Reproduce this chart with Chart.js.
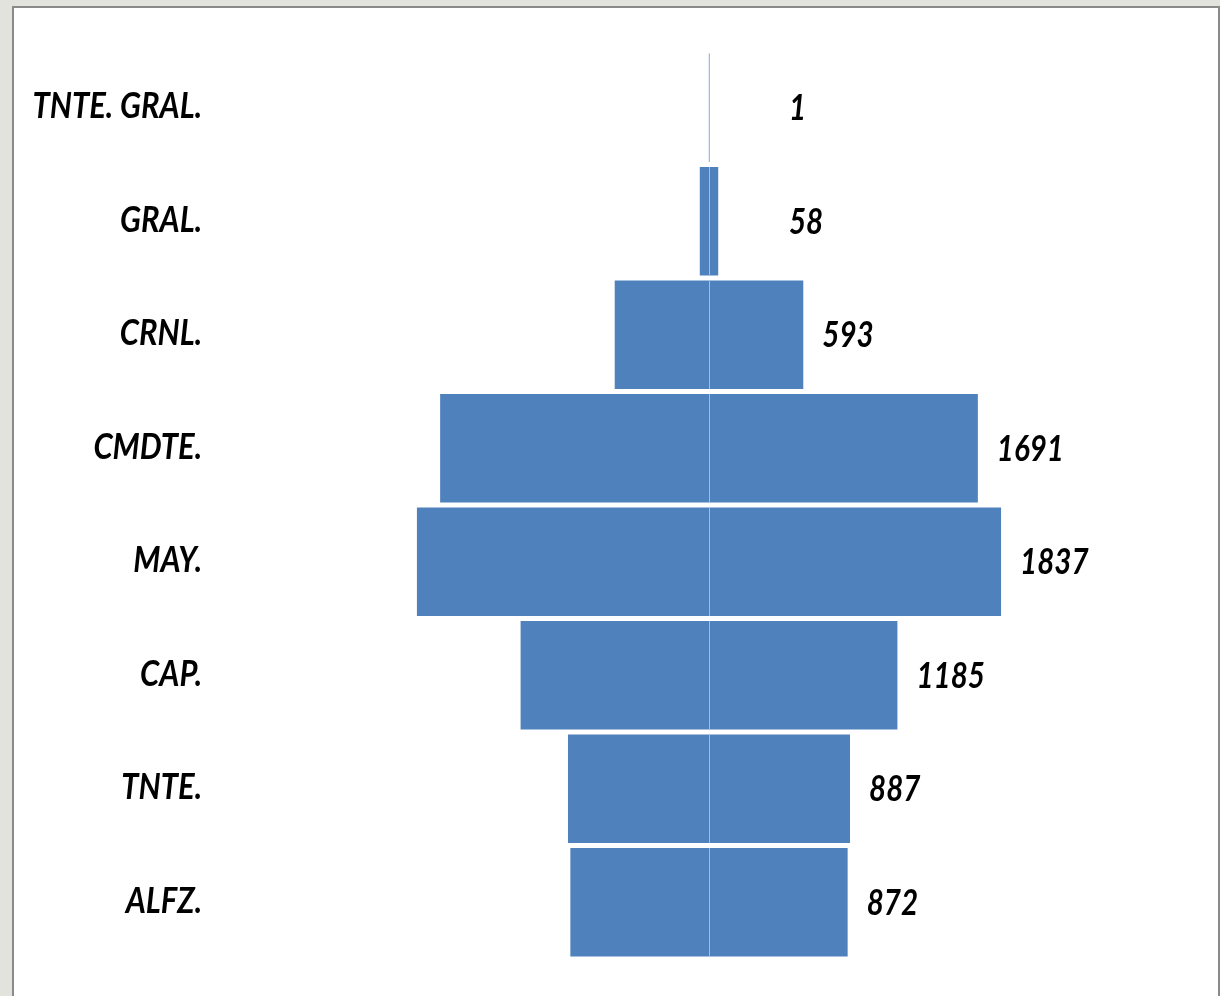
<!DOCTYPE html>
<html lang="es">
<head>
<meta charset="utf-8">
<title>Grados</title>
<script src="https://cdn.jsdelivr.net/npm/chart.js@4/dist/chart.umd.min.js"></script>
<style>
    body { margin: 0; background: #e3e3dd; width: 1220px; height: 996px; overflow: hidden; }
    #marco {
        position: absolute; left: 12px; top: 6px; width: 1204px; height: 1000px;
        background: #ffffff; border: 2px solid #8a8a8a; border-bottom: none;
    }
    #contenedor { position: absolute; left: 0; top: 0; width: 1220px; height: 996px; }
</style>
</head>
<body>
<div id="marco"></div>
<div id="contenedor"><canvas id="piramide" width="1220" height="996"></canvas></div>
<script>
// datos
const grados = ["TNTE. GRAL.", "GRAL.", "CRNL.", "CMDTE.", "MAY.", "CAP.", "TNTE.", "ALFZ."];
const efectivos = [1, 58, 593, 1691, 1837, 1185, 887, 872];
const mitadIzquierda = efectivos.map(v => -v);

const fuente = "Lato, 'DejaVu Sans Condensed', sans-serif";

// texto comprimido en horizontal (imita una letra tipo Calibri)
function textoEstrecho(ctx, texto, x, y, alinear, factor) {
    ctx.save();
    ctx.translate(x, y);
    ctx.scale(factor, 1);
    ctx.textAlign = alinear;
    ctx.fillText(texto, 0, 0);
    ctx.restore();
}

// linea central, grados y etiquetas de valor
const etiquetas = {
    id: "etiquetas",
    afterDatasetsDraw(chart) {
        const ctx = chart.ctx;
        const x0 = chart.scales.x.getPixelForValue(0);
        const ejeY = chart.scales.y;
        const barras = chart.getDatasetMeta(1).data;
        ctx.save();
        ctx.fillStyle = "#000000";
        ctx.font = "italic bold 36px " + fuente;
        ctx.textBaseline = "middle";
        barras.forEach((bar, i) => {
            const h = bar.height;
            ctx.strokeStyle = "#a3bbdd";
            ctx.lineWidth = 1;
            ctx.beginPath();
            ctx.moveTo(x0 + 0.5, bar.y - h / 2);
            ctx.lineTo(x0 + 0.5, bar.y + h / 2);
            ctx.stroke();

            const xv = Math.max(bar.x + 19, x0 + 80);
            textoEstrecho(ctx, String(efectivos[i]), xv, bar.y + 1, "left", 0.82);
            textoEstrecho(ctx, grados[i], ejeY.right - 13, ejeY.getPixelForValue(i) - 1, "right", 0.86);
        });
        ctx.restore();
    }
};

function cargaPiramide() {
    const datos = {
        labels: grados,
        datasets: [{
            label: "izquierda",
            backgroundColor: "#4f81bd",
            data: mitadIzquierda,
            barPercentage: 0.955,
            categoryPercentage: 1
        }, {
            label: "derecha",
            backgroundColor: "#4f81bd",
            data: efectivos,
            barPercentage: 0.955,
            categoryPercentage: 1
        }]
    };

    const config = {
        type: "bar",
        data: datos,
        options: {
            indexAxis: "y",
            responsive: false,
            maintainAspectRatio: false,
            animation: false,
            layout: { padding: { top: 51, bottom: 37, left: 0, right: 17 } },
            scales: {
                x: {
                    stacked: true,
                    min: -3107,
                    max: 3107,
                    display: false
                },
                y: {
                    stacked: true,
                    grid: { display: false },
                    border: { display: false },
                    ticks: { display: false },
                    afterFit(scale) { scale.width = 215; }
                }
            },
            plugins: {
                legend: { display: false },
                tooltip: { enabled: false }
            }
        },
        plugins: [etiquetas]
    };

    const ctx = document.getElementById("piramide").getContext("2d");
    new Chart(ctx, config);
}

window.onload = cargaPiramide;
</script>
</body>
</html>
